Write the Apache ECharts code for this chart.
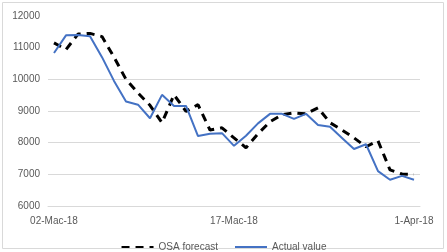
<!DOCTYPE html>
<html>
<head>
<meta charset="utf-8">
<script src="https://cdn.jsdelivr.net/npm/echarts@6/dist/echarts.min.js"></script>
<style>
  html, body { margin: 0; padding: 0; background: #fff; }
  #chart { width: 447px; height: 252px; }
</style>
</head>
<body>
<div id="chart"></div>
<script>
  // days on the x axis
  var days = [
    '02-Mac-18', '03-Mac-18', '04-Mac-18', '05-Mac-18', '06-Mac-18', '07-Mac-18',
    '08-Mac-18', '09-Mac-18', '10-Mac-18', '11-Mac-18', '12-Mac-18', '13-Mac-18',
    '14-Mac-18', '15-Mac-18', '16-Mac-18', '17-Mac-18', '18-Mac-18', '19-Mac-18',
    '20-Mac-18', '21-Mac-18', '22-Mac-18', '23-Mac-18', '24-Mac-18', '25-Mac-18',
    '26-Mac-18', '27-Mac-18', '28-Mac-18', '29-Mac-18', '30-Mac-18', '31-Mac-18',
    '1-Apr-18'
  ]
  var forecast = [
    11150, 10940, 11430, 11450, 11350, 10700, 10000, 9570, 9180, 8630,
    9510, 8990, 9200, 8400, 8470, 8150, 7840, 8280, 8660, 8880,
    8940, 8910, 9100, 8630, 8400, 8150, 7870, 8060, 7140, 7010, 7000
  ]
  var actual = [
    10830, 11390, 11400, 11360, 10700, 9950, 9300, 9200, 8770, 9510,
    9160, 9160, 8210, 8280, 8300, 7900, 8220, 8610, 8910, 8910,
    8750, 8910, 8560, 8500, 8150, 7800, 7950, 7100, 6830, 6950, 6830
  ]
  var labelDays = [0, 15, 30]

  var txt = { color: '#595959', fontSize: 10, fontFamily: 'Liberation Sans' }

  var myChart = echarts.init(document.getElementById('chart'))
  myChart.setOption({
    animation: false,
    graphic: [{
      type: 'rect',
      shape: { x: 2.5, y: 2.5, width: 441, height: 246 },
      style: { fill: 'none', stroke: '#d9d9d9', lineWidth: 1 },
      silent: true
    }],
    grid: { left: 48, right: 27, top: 16, bottom: 46 },
    legend: {
      top: 237,
      left: 'center',
      itemWidth: 32,
      itemHeight: 10,
      itemGap: 16,
      itemStyle: { opacity: 0 },
      textStyle: txt,
      data: ['OSA forecast', 'Actual value']
    },
    xAxis: {
      type: 'category',
      data: days,
      boundaryGap: true,
      axisLine: { show: true, lineStyle: { color: '#d9d9d9', width: 1 } },
      axisTick: { show: false },
      axisLabel: {
        color: txt.color, fontSize: 10, fontFamily: txt.fontFamily, margin: 10,
        interval: function (index) { return labelDays.indexOf(index) > -1 }
      },
      splitLine: { show: false }
    },
    yAxis: {
      type: 'value',
      min: 6000,
      max: 12000,
      interval: 1000,
      axisLine: { show: false },
      axisTick: { show: false },
      axisLabel: {
        color: txt.color, fontSize: 10, fontFamily: txt.fontFamily, margin: 8,
        formatter: function (v) { return String(v) }
      },
      splitLine: {
        show: true,
        lineStyle: {
          color: ['#d9d9d9', '#d9d9d9', '#d9d9d9', '#d9d9d9', '#d9d9d9', 'rgba(0,0,0,0)', 'rgba(0,0,0,0)'],
          width: 1
        }
      }
    },
    series: [
      {
        name: 'OSA forecast',
        type: 'line',
        data: forecast,
        symbol: 'none',
        itemStyle: { color: '#000' },
        lineStyle: { color: '#000', width: 3, type: [8, 6] }
      },
      {
        name: 'Actual value',
        type: 'line',
        data: actual,
        symbol: 'none',
        itemStyle: { color: '#4472c4' },
        lineStyle: { color: '#4472c4', width: 2 }
      }
    ]
  })
</script>
</body>
</html>
